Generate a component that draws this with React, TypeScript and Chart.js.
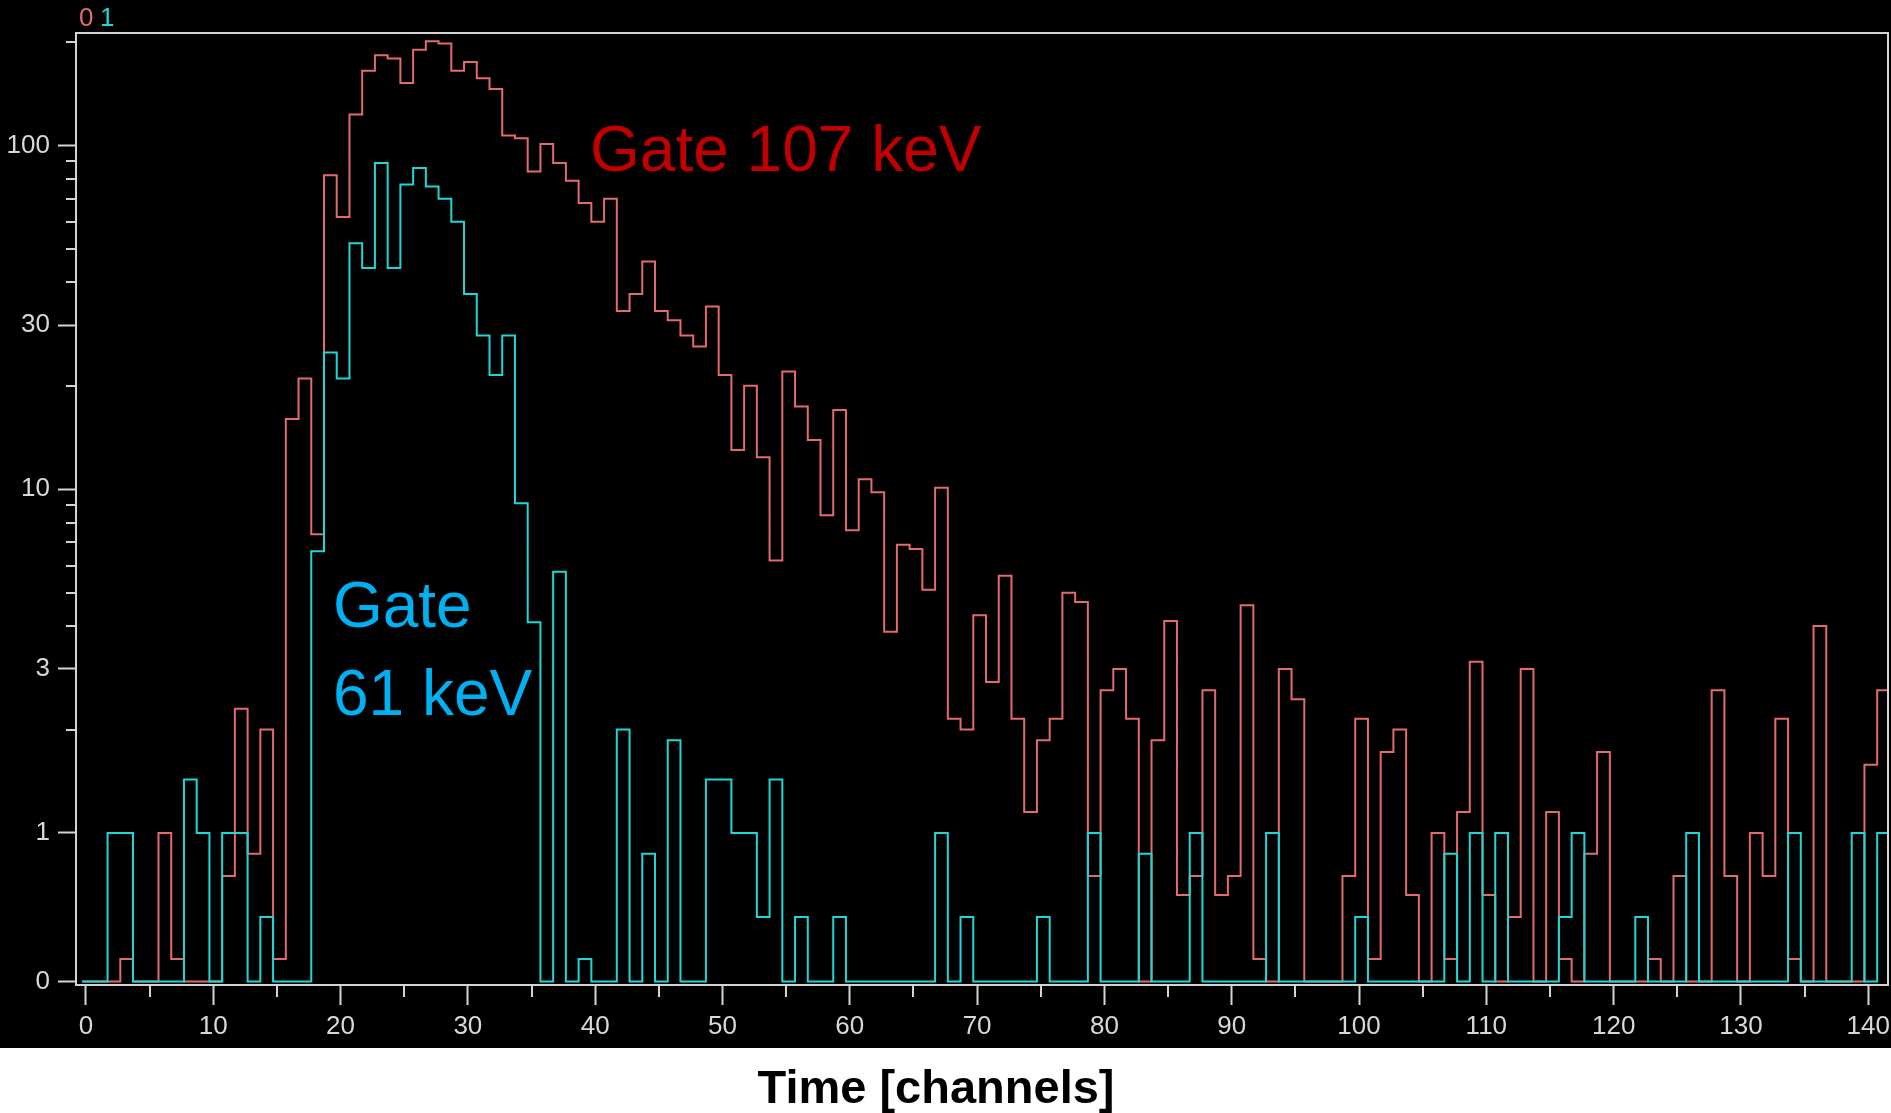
import React, { useEffect, useRef } from 'react';
import { Chart, registerables } from 'chart.js';

Chart.register(...registerables);

// ---------- data ----------
const firstChannel = 0;

// Gate 107 keV (spectrum "0", red)
const gate107 = [
  0, 0, 0, 0.43, 0, 0, 1, 0.43, 0, 0,
  0, 0.75, 2.3, 0.87, 2.0, 0.43, 16, 21, 7.4, 82,
  62, 123, 165, 183, 179, 152, 190, 201, 198, 165,
  175, 157, 146, 107, 105, 84, 101, 89, 79, 68,
  60, 70, 33, 37, 46, 33, 31, 28, 26, 34,
  21.5, 13, 20, 12.4, 6.2, 22, 17.4, 13.9, 8.4, 17,
  7.6, 10.7, 9.8, 3.85, 6.9, 6.7, 5.1, 10.1, 2.15, 2.0,
  4.3, 2.75, 5.6, 2.15, 1.15, 1.86, 2.15, 5.0, 4.7, 0.75,
  2.6, 3.0, 2.15, 0, 1.86, 4.14, 0.66, 0.75, 2.6, 0.66,
  0.75, 4.6, 0.43, 0, 3.0, 2.45, 0, 0, 0, 0.75,
  2.15, 0.43, 1.72, 2.0, 0.66, 0, 1, 0.43, 1.15, 3.15,
  0.66, 0, 0.57, 3.0, 0, 1.15, 0.43, 0, 0.87, 1.72,
  0, 0, 0, 0.43, 0, 0.75, 0, 0, 2.6, 0.75,
  0, 1, 0.75, 2.15, 0.43, 0, 4.0, 0, 0, 0,
  1.58, 2.6,
];

// Gate 61 keV (spectrum "1", cyan)
const gate61 = [
  0, 0, 1, 1, 0, 0, 0, 0, 1.43, 1,
  0, 1, 1, 0, 0.57, 0, 0, 0, 6.6, 25,
  21, 52, 44, 89, 44, 77, 86, 76, 70, 60,
  37, 28, 21.5, 28, 9.1, 4.1, 0, 5.75, 0, 0.43,
  0, 0, 2.0, 0, 0.87, 0, 1.86, 0, 0, 1.43,
  1.43, 1, 1, 0.57, 1.43, 0, 0.57, 0, 0, 0.57,
  0, 0, 0, 0, 0, 0, 0, 1, 0, 0.57,
  0, 0, 0, 0, 0, 0.57, 0, 0, 0, 1,
  0, 0, 0, 0.87, 0, 0, 0, 1, 0, 0,
  0, 0, 0, 1, 0, 0, 0, 0, 0, 0,
  0.57, 0, 0, 0, 0, 0, 0, 0.87, 0, 1,
  0, 1, 0, 0, 0, 0, 0.57, 1, 0, 0,
  0, 0, 0.57, 0, 0, 0, 1, 0, 0, 0,
  0, 0, 0, 0, 1, 0, 0, 0, 0, 1,
  0, 1,
];

const seriesLabels = ['0', '1'];
const yTickValues = [0, 1, 3, 10, 30, 100];
const yTickLabels = ['0', '1', '3', '10', '30', '100'];
const yMinorTicks = [2, 4, 5, 6, 7, 8, 9, 20, 40, 50, 60, 70, 80, 90, 200];
const xTickValues = [0, 10, 20, 30, 40, 50, 60, 70, 80, 90, 100, 110, 120, 130, 140];
const xMinorTicks = [5, 15, 25, 35, 45, 55, 65, 75, 85, 95, 105, 115, 125, 135];
const annotationTexts = ['Gate 107 keV', 'Gate', '61 keV'];
const xAxisTitle = 'Time [channels]';

// ---------- styles ----------
const RED = '#e36b6b';
const CYAN = '#1fd6d6';
const FRAME = '#d4d4d4';
const TICK_FONT_FAMILY = "'Liberation Sans Narrow', 'Liberation Sans', Arial, sans-serif";
const ZERO_FLOOR = 0.37; // where a zero count is drawn on the log axis
const Y_MIN = 0.3612;
const Y_MAX = 212.5;
const X_MIN = -0.78;
const X_MAX = 141.55;
const BIN_SHIFT = 0.2; // the display draws channel bins slightly right of the tick marks

function toSteps(values: number[]) {
  const pts = values.map((v, i) => ({
    x: firstChannel + i - 0.5 + BIN_SHIFT,
    y: v > 0 ? v : ZERO_FLOOR,
  }));
  const last = values[values.length - 1];
  pts.push({ x: firstChannel + values.length - 0.5 + BIN_SHIFT, y: last > 0 ? last : ZERO_FLOOR });
  return pts;
}

const decorPlugin = {
  id: 'decor',
  beforeDraw(chart: any) {
    const { ctx, width, height } = chart;
    ctx.save();
    ctx.fillStyle = '#ffffff';
    ctx.fillRect(0, 0, width, height);
    ctx.fillStyle = '#000000';
    ctx.fillRect(0, 0, width, 1048);
    ctx.restore();
  },
  afterDatasetsDraw(chart: any) {
    const { ctx, chartArea } = chart;
    const xs = chart.scales.x;
    const ys = chart.scales.y;
    ctx.save();
    // frame
    ctx.strokeStyle = FRAME;
    ctx.lineWidth = 2;
    ctx.strokeRect(chartArea.left, chartArea.top, chartArea.right - chartArea.left, chartArea.bottom - chartArea.top);
    // minor ticks
    ctx.beginPath();
    yMinorTicks.forEach((v) => {
      const py = Math.round(ys.getPixelForValue(v));
      ctx.moveTo(chartArea.left - 10, py);
      ctx.lineTo(chartArea.left, py);
    });
    xMinorTicks.forEach((v) => {
      const px = Math.round(xs.getPixelForValue(v));
      ctx.moveTo(px, chartArea.bottom);
      ctx.lineTo(px, chartArea.bottom + 12);
    });
    ctx.stroke();

    // spectrum numbers top-left
    ctx.font = `26px ${TICK_FONT_FAMILY}`;
    ctx.textBaseline = 'alphabetic';
    ctx.textAlign = 'left';
    ctx.fillStyle = RED;
    ctx.fillText(seriesLabels[0], chartArea.left + 3, chartArea.top - 7);
    ctx.fillStyle = CYAN;
    ctx.fillText(seriesLabels[1], chartArea.left + 24, chartArea.top - 7);

    // annotations (anchored in data space)
    ctx.font = "64px 'Liberation Sans', Arial, sans-serif";
    ctx.fillStyle = '#c00000';
    ctx.fillText(annotationTexts[0], xs.getPixelForValue(39.6), ys.getPixelForValue(84.3));
    ctx.fillStyle = '#00b0f0';
    ctx.fillText(annotationTexts[1], xs.getPixelForValue(19.4), ys.getPixelForValue(3.975));
    ctx.fillText(annotationTexts[2], xs.getPixelForValue(19.4), ys.getPixelForValue(2.204));

    // x axis title, in the white strip
    ctx.font = "bold 47px 'Liberation Sans', Arial, sans-serif";
    ctx.fillStyle = '#000000';
    ctx.textAlign = 'center';
    ctx.fillText(xAxisTitle, 936, 1103);
    ctx.restore();
  },
};

export default function App() {
  const canvasRef = useRef<HTMLCanvasElement | null>(null);

  useEffect(() => {
    const canvas = canvasRef.current;
    if (!canvas) return;
    const tickFont = { family: TICK_FONT_FAMILY, size: 26 };
    const chart = new Chart(canvas, {
      type: 'line',
      data: {
        datasets: [
          {
            label: seriesLabels[1],
            data: toSteps(gate61),
            borderColor: CYAN,
            borderWidth: 2,
            pointRadius: 0,
            stepped: true,
            fill: false,
            order: 0,
            borderJoinStyle: 'miter',
            borderCapStyle: 'butt',
          },
          {
            label: seriesLabels[0],
            data: toSteps(gate107),
            borderColor: RED,
            borderWidth: 2,
            pointRadius: 0,
            stepped: true,
            fill: false,
            order: 1,
            borderJoinStyle: 'miter',
            borderCapStyle: 'butt',
          },
        ],
      } as any,
      options: {
        responsive: false,
        animation: false,
        devicePixelRatio: 1,
        layout: { padding: { top: 33, right: 3, left: 0, bottom: 0 } },
        plugins: {
          legend: { display: false },
          tooltip: { enabled: false },
          title: { display: false },
        },
        scales: {
          x: {
            type: 'linear',
            min: X_MIN,
            max: X_MAX,
            afterBuildTicks: (s: any) => {
              s.ticks = xTickValues.map((v) => ({ value: v }));
            },
            afterFit: (s: any) => {
              s.height = 128;
              s.paddingLeft = 0;
              s.paddingRight = 0;
            },
            ticks: {
              autoSkip: false,
              maxRotation: 0,
              minRotation: 0,
              color: '#d8d8d8',
              font: tickFont,
              padding: 6,
              callback: (v: any) => String(v),
            },
            grid: {
              drawOnChartArea: false,
              drawTicks: true,
              tickLength: 20,
              tickWidth: 2,
              tickColor: FRAME,
            },
            border: { display: false },
          },
          y: {
            type: 'logarithmic',
            min: Y_MIN,
            max: Y_MAX,
            afterBuildTicks: (s: any) => {
              s.ticks = yTickValues.map((v) => ({ value: v > 0 ? v : ZERO_FLOOR }));
            },
            afterFit: (s: any) => {
              s.width = 76;
              s.paddingTop = 0;
              s.paddingBottom = 0;
            },
            ticks: {
              color: '#d8d8d8',
              font: tickFont,
              padding: 8,
              callback: (_v: any, i: number) => yTickLabels[i],
            },
            grid: {
              drawOnChartArea: false,
              drawTicks: true,
              tickLength: 18,
              tickWidth: 2,
              tickColor: FRAME,
            },
            border: { display: false },
          },
        },
      } as any,
      plugins: [decorPlugin],
    });
    return () => chart.destroy();
  }, []);

  return (
    <div style={{ position: 'absolute', left: 0, top: 0, width: 1891, height: 1113, background: '#fff' }}>
      <canvas ref={canvasRef} width={1891} height={1113} style={{ display: 'block' }} />
    </div>
  );
}
